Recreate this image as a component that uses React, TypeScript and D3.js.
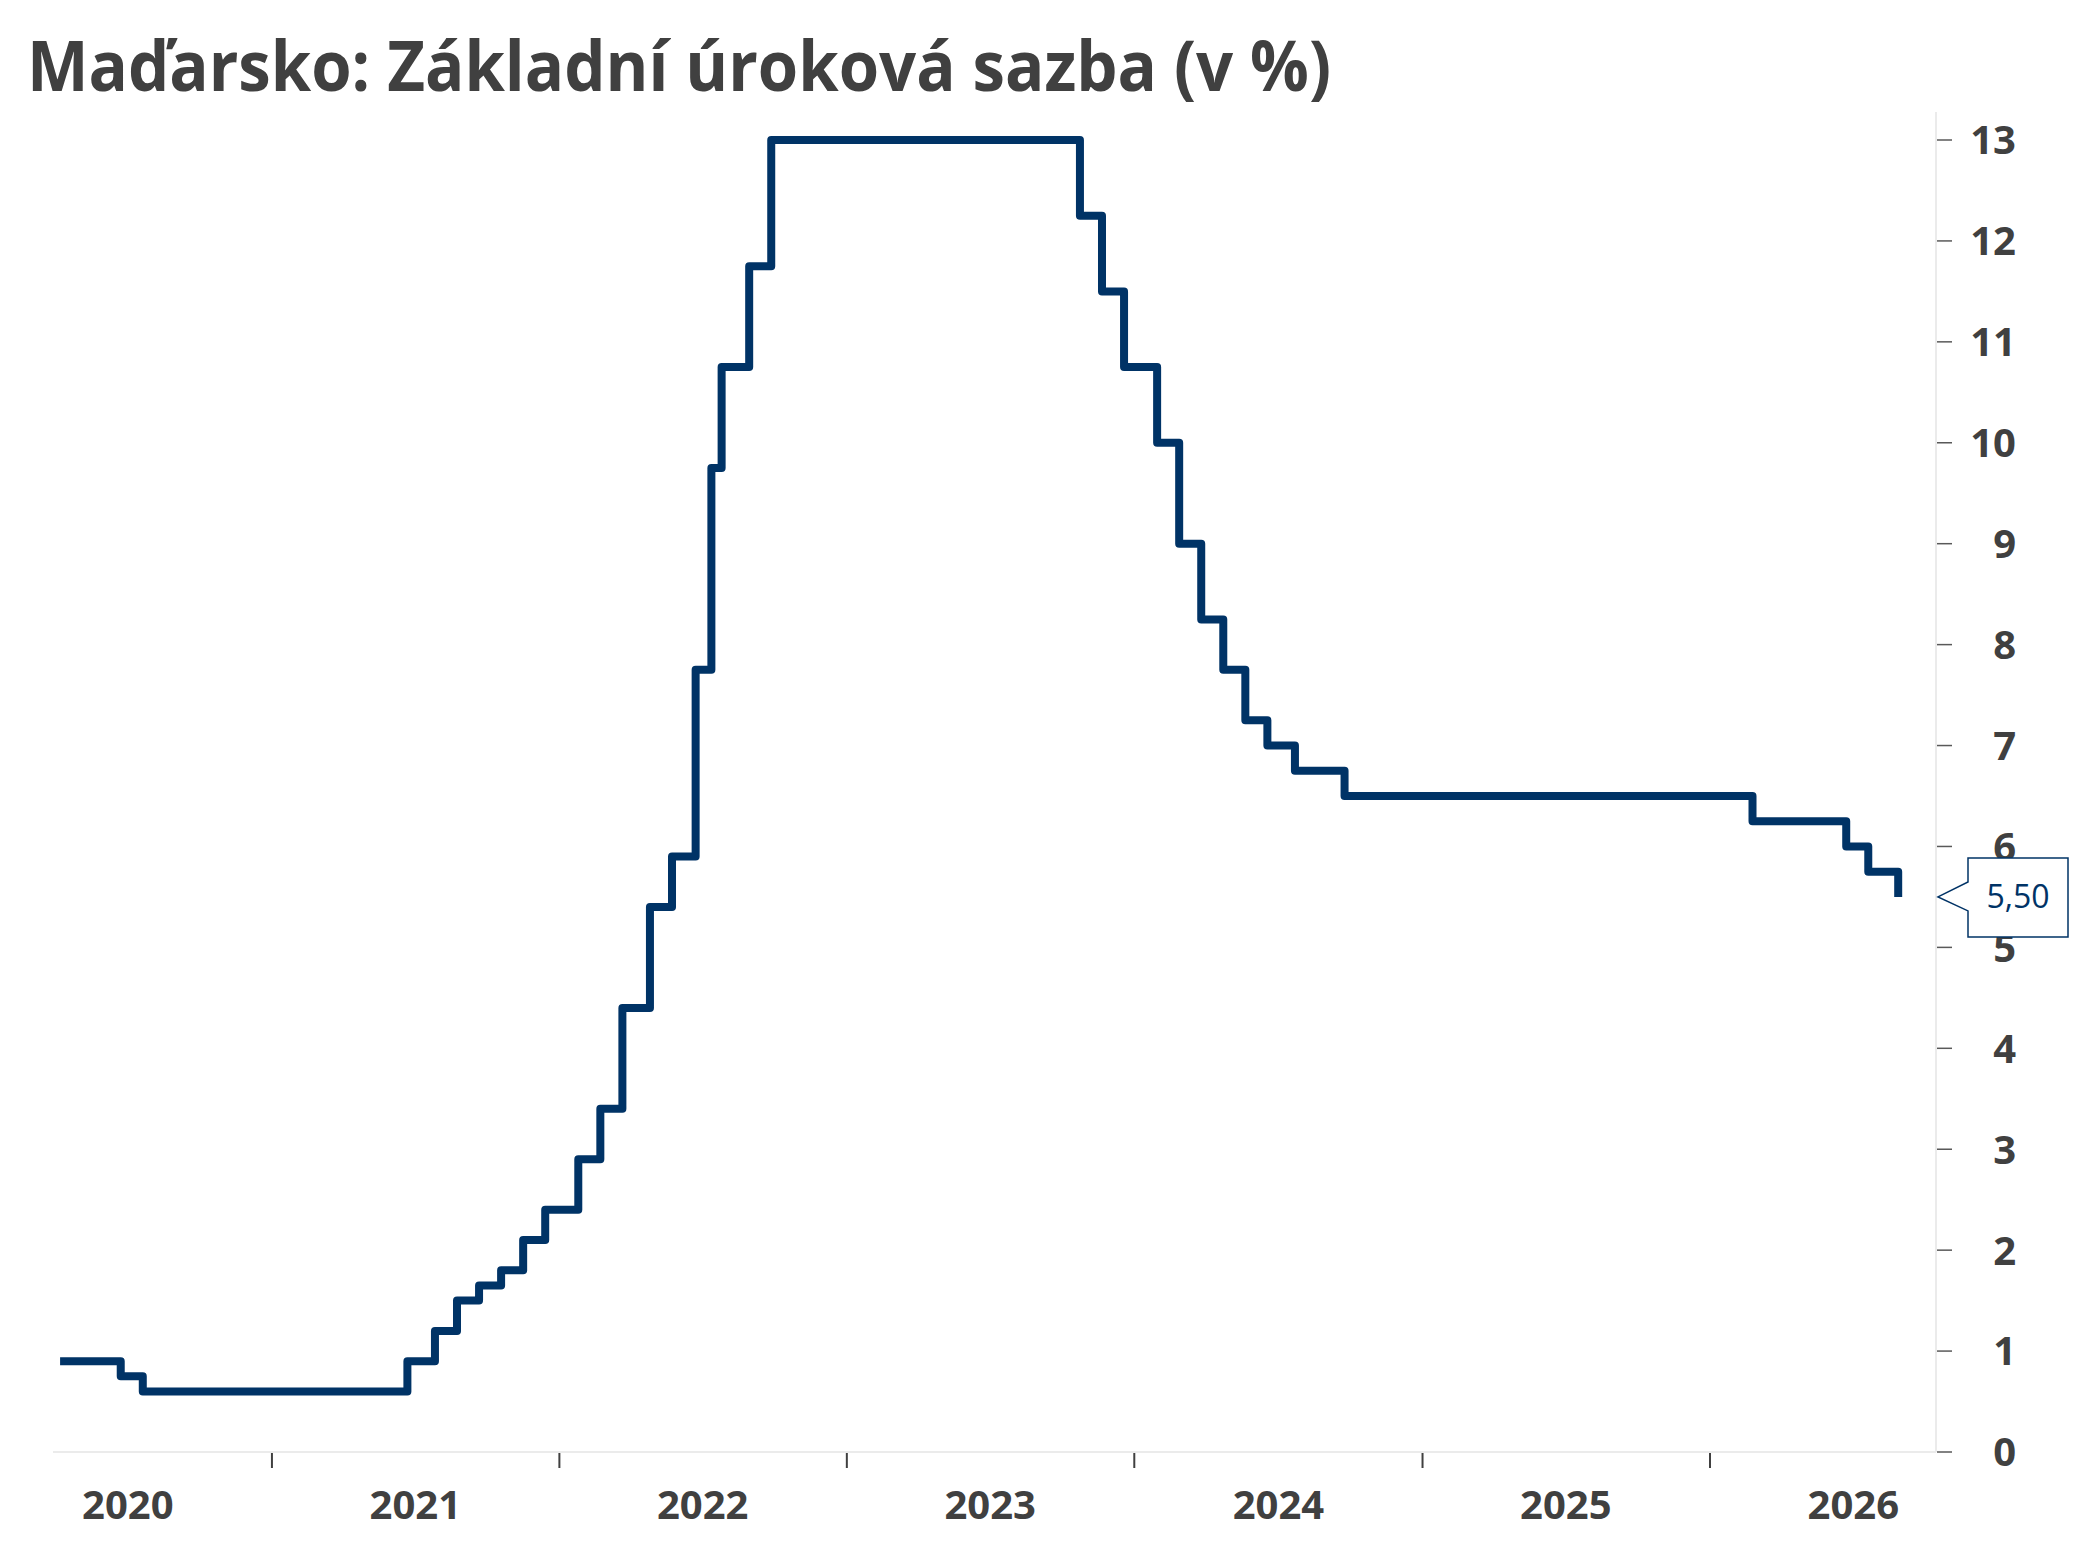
import React from 'react';
import * as d3 from 'd3';

// Hungarian base rate (%), value valid from given date (step after)
const rateDates = [
  '2020-04-07', '2020-06-23', '2020-07-21', '2021-06-22', '2021-07-27', '2021-08-24',
  '2021-09-21', '2021-10-19', '2021-11-16', '2021-12-14', '2022-01-25', '2022-02-22',
  '2022-03-22', '2022-04-26', '2022-05-24', '2022-06-23', '2022-07-13', '2022-07-26',
  '2022-08-30', '2022-09-27', '2023-10-24', '2023-11-21', '2023-12-19', '2024-01-30',
  '2024-02-27', '2024-03-26', '2024-04-23', '2024-05-21', '2024-06-18', '2024-07-23',
  '2024-09-24', '2026-02-24', '2026-06-23', '2026-07-21', '2026-08-28',
];
const rateValues = [
  0.9, 0.75, 0.6, 0.9, 1.2, 1.5,
  1.65, 1.8, 2.1, 2.4, 2.9, 3.4,
  4.4, 5.4, 5.9, 7.75, 9.75, 10.75,
  11.75, 13.0, 12.25, 11.5, 10.75, 10.0,
  9.0, 8.25, 7.75, 7.25, 7.0, 6.75,
  6.5, 6.25, 6.0, 5.75, 5.5,
];
const yearLabels = ['2020', '2021', '2022', '2023', '2024', '2025', '2026'];
const yTicks = [0, 1, 2, 3, 4, 5, 6, 7, 8, 9, 10, 11, 12, 13];
const lastLabel = '5,50';

const W = 2093;
const H = 1568;
const left = 53;
const right = 1936;
const top = 140;
const bottom = 1452;
const navy = '#003366';
const textCol = '#404040';
const font = '"Open Sans", "Noto Sans", sans-serif';

const App: React.FC = () => {
  const parse = d3.timeParse('%Y-%m-%d');
  const data = rateDates.map((d, i) => ({ date: parse(d) as Date, value: rateValues[i] }));

  const x = d3.scaleTime()
    .domain([new Date(2020, 2, 29), new Date(2026, 9, 15)])
    .range([left, right]);
  const y = d3.scaleLinear().domain([0, 13]).range([bottom, top]);

  const line = d3.line<{ date: Date; value: number }>()
    .x(d => x(d.date))
    .y(d => y(d.value))
    .curve(d3.curveStepAfter);

  const yearStarts = d3.range(2021, 2027).map(yr => new Date(yr, 0, 1));
  const yearMids = yearLabels.map(l => new Date(+l, 6, 2));

  const last = data[data.length - 1];
  const ly = y(last.value);
  const bx0 = 1968;
  const bx1 = 2068;
  const boxPath = `M${right + 2},${ly} L${bx0},${ly - 15} L${bx0},${ly - 39} L${bx1},${ly - 39} L${bx1},${ly + 40} L${bx0},${ly + 40} L${bx0},${ly + 14} Z`;

  return (
    <svg width={W} height={H} style={{ position: 'absolute', left: 0, top: 0, background: '#fff' }}>
      <rect x={0} y={0} width={W} height={H} fill="#fff" />
      <text x={27} y={91} fontFamily={font} fontWeight={700} fontSize={70} fill={textCol}
        textLength={1304} lengthAdjust="spacingAndGlyphs">
        Maďarsko: Základní úroková sazba (v %)
      </text>

      {/* axes lines */}
      <line x1={left} x2={right} y1={bottom} y2={bottom} stroke="#ebebeb" strokeWidth={2} />
      <line x1={right} x2={right} y1={112} y2={bottom} stroke="#ebebeb" strokeWidth={2} />

      {yTicks.map(t => (
        <g key={t}>
          <line x1={right + 1} x2={right + 16} y1={y(t)} y2={y(t)} stroke="#595959" strokeWidth={1.5} />
          <text x={2016} y={y(t)} dy="0.36em" textAnchor="end" fontFamily={font} fontWeight={700}
            fontSize={40} fill={textCol}>{t}</text>
        </g>
      ))}

      {yearStarts.map((d, i) => (
        <line key={i} x1={x(d)} x2={x(d)} y1={bottom + 1} y2={bottom + 16} stroke="#404040" strokeWidth={2} />
      ))}
      {yearLabels.map((l, i) => (
        <text key={l} x={x(yearMids[i])} y={1519} textAnchor="middle" fontFamily={font} fontWeight={700}
          fontSize={40} fill={textCol}>{l}</text>
      ))}

      <path d={line(data) || ''} fill="none" stroke={navy} strokeWidth={8}
        strokeLinejoin="round" strokeLinecap="butt" />

      <path d={boxPath} fill="#fff" stroke={navy} strokeWidth={1.5} />
      <text x={(bx0 + bx1) / 2} y={ly} dy="0.36em" textAnchor="middle" fontFamily={font}
        fontSize={32} fill={navy}>{lastLabel}</text>
    </svg>
  );
};

export default App;
